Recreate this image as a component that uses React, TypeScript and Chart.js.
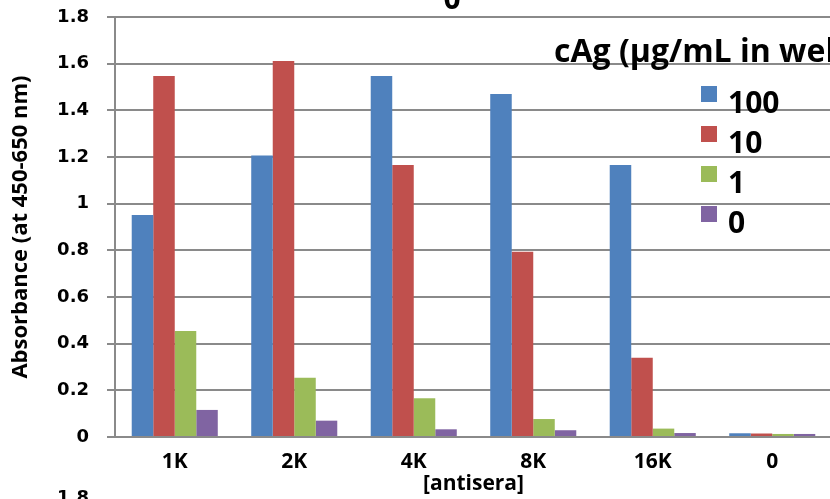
import { useEffect, useRef } from "react";
import { Chart, registerables } from "chart.js";

Chart.register(...registerables);

// Antisera dilutions along the category axis
const dilutions = ["1K", "2K", "4K", "8K", "16K", "0"];

// Capture antigen concentration (µg/mL in well) for each series
const seriesLabels = ["100", "10", "1", "0"];

// Absorbance readings (450-650 nm) per dilution
const cag100 = [0.951, 1.206, 1.547, 1.47, 1.166, 0.016];
const cag10 = [1.547, 1.611, 1.166, 0.794, 0.34, 0.015];
const cag1 = [0.454, 0.254, 0.166, 0.077, 0.036, 0.013];
const cag0 = [0.116, 0.07, 0.033, 0.029, 0.017, 0.013];

const yTicks = [0, 0.2, 0.4, 0.6, 0.8, 1, 1.2, 1.4, 1.6, 1.8];

const seriesColors = ["#4f81bd", "#c0504d", "#9bbb59", "#8064a2"];
const axisGray = "#8a8a8a";

const TITLE_FONT = "'Open Sans', sans-serif";
const TICK_FONT = "'DejaVu Sans', sans-serif";

// Legend with a heading, drawn on top of the grid at the upper right
const sideLegend = {
  id: "sideLegend",
  afterDraw(chart: any) {
    const { ctx } = chart;
    ctx.save();
    ctx.fillStyle = "#000";
    ctx.textBaseline = "alphabetic";
    ctx.textAlign = "left";
    ctx.font = `bold 32px ${TITLE_FONT}`;
    ctx.fillText("cAg (μg/mL in well)", 554, 62);

    chart.data.datasets.forEach((ds: any, i: number) => {
      const top = 86 + i * 40;
      ctx.fillStyle = ds.backgroundColor;
      ctx.fillRect(701, top, 16, 16);
      ctx.fillStyle = "#000";
      ctx.font = `bold 30px ${TITLE_FONT}`;
      ctx.fillText(ds.label, 728, top + 27);
    });

    // chart heading, mostly above the visible area
    ctx.textAlign = "center";
    ctx.font = `bold 30px ${TITLE_FONT}`;
    ctx.fillText("0", 452, 9);

    // top tick of the next panel below
    ctx.textAlign = "right";
    ctx.font = `bold 18px ${TICK_FONT}`;
    ctx.fillText("1.8", 89, 503);
    ctx.restore();
  },
};

export default function App() {
  const canvasRef = useRef<HTMLCanvasElement | null>(null);

  useEffect(() => {
    const canvas = canvasRef.current;
    if (!canvas) return;
    const series = [cag100, cag10, cag1, cag0];
    const chart = new Chart(canvas, {
      type: "bar",
      data: {
        labels: dilutions,
        datasets: series.map((values, i) => ({
          label: seriesLabels[i],
          data: values,
          backgroundColor: seriesColors[i],
          borderWidth: 0,
          categoryPercentage: 0.72,
          barPercentage: 1.0,
        })),
      },
      options: {
        responsive: false,
        animation: false,
        devicePixelRatio: 1,
        layout: { padding: { top: 17, right: 13, bottom: 0, left: 0 } },
        plugins: {
          legend: { display: false },
          title: { display: false },
          tooltip: { enabled: false },
        },
        scales: {
          x: {
            type: "category",
            grid: { display: false, drawTicks: false, tickLength: 0 },
            border: { display: true, color: axisGray, width: 2 },
            ticks: {
              color: "#000",
              font: { family: TITLE_FONT, size: 21, weight: "bold" },
              padding: 12,
              maxRotation: 0,
              autoSkip: false,
            },
            title: {
              display: true,
              text: "[antisera]",
              color: "#000",
              font: { family: TITLE_FONT, size: 21, weight: "bold" },
              padding: { top: 0, bottom: 2 },
            },
            afterFit: (scale: any) => {
              scale.height = 62;
            },
          },
          y: {
            min: 0,
            max: 1.8,
            afterBuildTicks: (scale: any) => {
              scale.ticks = yTicks.map((v) => ({ value: v }));
            },
            grid: {
              color: axisGray,
              lineWidth: 2,
              drawTicks: true,
              tickLength: 8,
            },
            border: { display: true, color: axisGray, width: 2 },
            ticks: {
              color: "#000",
              font: { family: TICK_FONT, size: 18, weight: "bold" },
              padding: 18,
              callback: (v: any) => String(Math.round(Number(v) * 10) / 10),
            },
            title: {
              display: true,
              text: "Absorbance (at 450-650 nm)",
              color: "#000",
              font: { family: TITLE_FONT, size: 22, weight: "bold" },
              padding: { top: 8, bottom: 0 },
            },
            afterFit: (scale: any) => {
              scale.width = 115;
              // the layout padding already leaves room for the end labels
              scale.paddingTop = 0;
              scale.paddingBottom = 0;
            },
          },
        },
      },
      plugins: [sideLegend],
    });
    return () => chart.destroy();
  }, []);

  return (
    <div
      style={{
        position: "fixed",
        left: 0,
        top: 0,
        width: 830,
        height: 499,
        overflow: "hidden",
        background: "#fff",
      }}
    >
      <canvas ref={canvasRef} width={845} height={499} style={{ width: 845, height: 499, display: "block" }} />
    </div>
  );
}
